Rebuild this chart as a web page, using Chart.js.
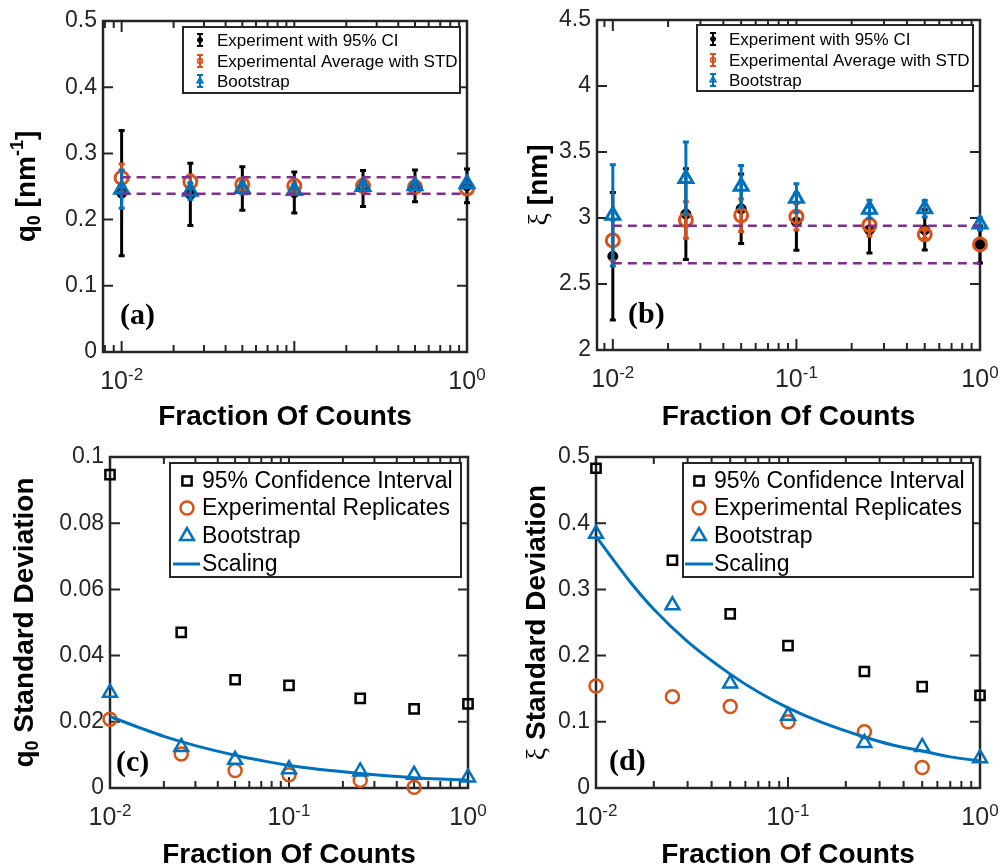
<!DOCTYPE html>
<html lang="en">
<head>
<meta charset="UTF-8">
<title>Fraction of counts: q0 and xi</title>
<script src="https://cdn.jsdelivr.net/npm/chart.js@4.4.1/dist/chart.umd.min.js"></script>
<style>
  body { margin: 0; background: #fff; }
  canvas { position: absolute; }
</style>
</head>
<body>
<canvas id="panelA" width="500" height="430" style="left:0;top:0"></canvas>
<canvas id="panelB" width="501" height="430" style="left:500px;top:0"></canvas>
<canvas id="panelC" width="500" height="436" style="left:0;top:430px"></canvas>
<canvas id="panelD" width="501" height="436" style="left:500px;top:430px"></canvas>

<script>
// ---- data ----
const fractions = [0.01, 0.025, 0.05, 0.1, 0.25, 0.5, 1];

// (a) q0 estimates
const q0Experiment = [0.240, 0.238, 0.247, 0.241, 0.247, 0.251, 0.251];
const q0Average    = [0.263, 0.257, 0.253, 0.251, 0.251, 0.249, 0.247];
const q0Bootstrap  = [0.246, 0.243, 0.247, 0.244, 0.250, 0.251, 0.254];
const q0Band       = [0.264, 0.239];

// (b) xi estimates
const xiExperiment = [2.71, 3.03, 3.07, 2.97, 2.91, 2.91, 2.80];
const xiAverage    = [2.83, 2.985, 3.02, 3.01, 2.947, 2.876, 2.80];
const xiBootstrap  = [3.02, 3.30, 3.24, 3.15, 3.066, 3.07, 2.955];
const xiBand       = [2.942, 2.657];

// (c) q0 standard deviations (also the error bar half widths in (a))
const q0StdCI        = [0.0947, 0.047, 0.0327, 0.031, 0.0271, 0.0239, 0.0254];
const q0StdReplicate = [0.0208, 0.0103, 0.0053, 0.004, 0.0023, 0.0002, null];
const q0StdBootstrap = [0.0288, 0.0124, 0.0085, 0.0057, 0.005, 0.004, 0.0032];

// (d) xi standard deviations (also the error bar half widths in (b))
const xiStdCI        = [0.483, 0.344, 0.263, 0.215, 0.176, 0.153, 0.14];
const xiStdReplicate = [0.154, 0.138, 0.123, 0.1, 0.085, 0.031, null];
const xiStdBootstrap = [0.384, 0.276, 0.158, 0.109, 0.068, 0.062, 0.045];

const scalingFractions = [0.01, 0.015, 0.02, 0.03, 0.05, 0.07, 0.1, 0.15, 0.25, 0.35, 0.5, 0.7, 1];
const q0Scaling = [0.0216, 0.0180, 0.0156, 0.0128, 0.0099, 0.0083, 0.0068, 0.0056, 0.0044, 0.0037, 0.0031, 0.0027, 0.0024];
const xiScaling = [0.380, 0.312, 0.270, 0.221, 0.172, 0.145, 0.121, 0.099, 0.077, 0.065, 0.056, 0.047, 0.041];

// ticks
const xMajorTicks = [0.01, 0.1, 1];
const xMinorTicks = [0.008, 0.009, 0.02, 0.03, 0.04, 0.05, 0.06, 0.07, 0.08, 0.09,
                     0.2, 0.3, 0.4, 0.5, 0.6, 0.7, 0.8, 0.9];
const q0Ticks    = [0, 0.1, 0.2, 0.3, 0.4, 0.5];
const xiTicks    = [2, 2.5, 3, 3.5, 4, 4.5];
const q0StdTicks = [0, 0.02, 0.04, 0.06, 0.08, 0.1];
const xiStdTicks = [0, 0.1, 0.2, 0.3, 0.4, 0.5];

// ---- styles ----
const BLUE = '#0072BD', ORANGE = '#D95319', PURPLE = '#7E2F8E', AXIS = '#262626';
const SANS = "'Liberation Sans', Arial, Helvetica, sans-serif";
const SERIF = "'Liberation Serif', 'Times New Roman', serif";
const B28 = 'bold 28px ' + SANS, B18 = 'bold 18px ' + SANS;

Chart.defaults.font.family = SANS;

const pts = (xs, ys) => xs.map((x, i) => ({x: x, y: ys[i]}));

function errorSeries(exp, expErr, avg, avgErr, boot, bootErr, band) {
  const bandLine = v => ({
    data: [{x: fractions[0], y: v}, {x: fractions[fractions.length - 1], y: v}],
    showLine: true, borderColor: PURPLE, borderWidth: 2.5, borderDash: [9, 6],
    pointRadius: 0, order: 0, clip: false
  });
  return [
    {label: 'Experiment with 95% CI', data: pts(fractions, exp), errors: expErr,
     pointStyle: 'circle', pointRadius: 5, pointBackgroundColor: '#000', pointBorderColor: '#000',
     pointBorderWidth: 1, borderColor: '#000', order: 3, clip: false, legendIcon: 'errDot'},
    {label: 'Experimental Average with STD', data: pts(fractions, avg), errors: avgErr,
     pointStyle: 'circle', pointRadius: 6.5, pointBackgroundColor: 'rgba(0,0,0,0)', pointBorderColor: ORANGE,
     pointBorderWidth: 3, borderColor: ORANGE, order: 2, clip: false, legendIcon: 'errCircle'},
    {label: 'Bootstrap', data: pts(fractions, boot), errors: bootErr,
     pointStyle: 'triangle', pointRadius: 8, pointBackgroundColor: 'rgba(0,0,0,0)', pointBorderColor: BLUE,
     pointBorderWidth: 3, borderColor: BLUE, order: 1, clip: false, legendIcon: 'errTriangle'},
    bandLine(band[0]),
    bandLine(band[1])
  ];
}

function stdSeries(ci, rep, boot, scaling) {
  return [
    {label: '95% Confidence Interval', data: pts(fractions, ci),
     pointStyle: 'rect', pointRadius: 6.5, pointBackgroundColor: 'rgba(0,0,0,0)', pointBorderColor: '#000',
     pointBorderWidth: 2.5, borderColor: '#000', order: 3, clip: false, legendIcon: 'rect'},
    {label: 'Experimental Replicates', data: pts(fractions, rep),
     pointStyle: 'circle', pointRadius: 6.5, pointBackgroundColor: 'rgba(0,0,0,0)', pointBorderColor: ORANGE,
     pointBorderWidth: 2.5, borderColor: ORANGE, order: 2, clip: false, legendIcon: 'circle'},
    {label: 'Bootstrap', data: pts(fractions, boot),
     pointStyle: 'triangle', pointRadius: 8, pointBackgroundColor: 'rgba(0,0,0,0)', pointBorderColor: BLUE,
     pointBorderWidth: 2.5, borderColor: BLUE, order: 1, clip: false, legendIcon: 'triangle'},
    {label: 'Scaling', data: pts(scalingFractions, scaling), showLine: true, borderColor: BLUE,
     borderWidth: 3, pointRadius: 0, cubicInterpolationMode: 'monotone', order: 0, clip: false, legendIcon: 'line'}
  ];
}

// ---- drawing helpers ----
function drawPieces(ctx, pieces, x, y) {
  let total = 0;
  pieces.forEach(pc => { ctx.font = pc.font; pc.w = ctx.measureText(pc.text).width; total += pc.w; });
  let cx = x - total / 2;
  ctx.textAlign = 'left';
  ctx.textBaseline = 'alphabetic';
  pieces.forEach(pc => { ctx.font = pc.font; ctx.fillText(pc.text, cx, y + (pc.dy || 0)); cx += pc.w; });
}

function drawMarker(ctx, kind, x, y, r, color, lw, fill) {
  ctx.save();
  ctx.strokeStyle = color;
  ctx.fillStyle = color;
  ctx.lineWidth = lw;
  ctx.beginPath();
  if (kind === 'circle') {
    ctx.arc(x, y, r, 0, Math.PI * 2);
  } else if (kind === 'rect') {
    const s = r * Math.SQRT1_2;
    ctx.rect(x - s, y - s, 2 * s, 2 * s);
  } else if (kind === 'triangle') {
    for (let k = 0; k < 3; k++) {
      const a = k * 2 * Math.PI / 3;
      ctx.lineTo(x + Math.sin(a) * r, y - Math.cos(a) * r);
    }
    ctx.closePath();
  }
  if (fill) ctx.fill();
  ctx.stroke();
  ctx.restore();
}

function errIcon(ctx, x, y, color, kind) {
  ctx.save();
  ctx.strokeStyle = color;
  ctx.lineWidth = 2;
  ctx.beginPath();
  ctx.moveTo(x, y - 6); ctx.lineTo(x, y + 6);
  ctx.moveTo(x - 3, y - 6); ctx.lineTo(x + 3, y - 6);
  ctx.moveTo(x - 3, y + 6); ctx.lineTo(x + 3, y + 6);
  ctx.stroke();
  ctx.restore();
  if (kind === 'errDot') drawMarker(ctx, 'circle', x, y, 2.5, color, 1, true);
  if (kind === 'errCircle') drawMarker(ctx, 'circle', x, y, 2.5, color, 1.5, false);
  if (kind === 'errTriangle') drawMarker(ctx, 'triangle', x, y, 3.5, color, 1.5, false);
}

function matlabLook(p) {
  return {
    id: 'matlabLook',
    beforeDatasetsDraw(chart) {
      const {ctx, chartArea: a, scales: {x, y}} = chart;
      ctx.save();
      ctx.strokeStyle = AXIS;
      ctx.lineWidth = 2.5;
      ctx.strokeRect(a.left, a.top, a.right - a.left, a.bottom - a.top);
      ctx.lineWidth = 2;
      ctx.beginPath();
      x.ticks.forEach(t => {
        const px = x.getPixelForValue(t.value);
        const len = t.major ? 11 : 7;
        ctx.moveTo(px, a.bottom); ctx.lineTo(px, a.bottom - len);
        ctx.moveTo(px, a.top); ctx.lineTo(px, a.top + len);
      });
      y.ticks.forEach(t => {
        const py = y.getPixelForValue(t.value);
        ctx.moveTo(a.left, py); ctx.lineTo(a.left + 10, py);
        ctx.moveTo(a.right, py); ctx.lineTo(a.right - 10, py);
      });
      ctx.stroke();
      ctx.restore();
    },
    beforeDatasetDraw(chart, args) {
      const ds = chart.data.datasets[args.index];
      if (!ds.errors) return;
      const {ctx, scales: {x, y}} = chart;
      ctx.save();
      ctx.strokeStyle = ds.borderColor;
      ctx.lineWidth = 3;
      ds.data.forEach((pt, i) => {
        const e = ds.errors[i];
        if (!e || pt.y == null) return;
        const px = x.getPixelForValue(pt.x);
        const top = y.getPixelForValue(pt.y + e), bot = y.getPixelForValue(pt.y - e);
        ctx.beginPath();
        ctx.moveTo(px, top); ctx.lineTo(px, bot);
        ctx.moveTo(px - 3, top); ctx.lineTo(px + 3, top);
        ctx.moveTo(px - 3, bot); ctx.lineTo(px + 3, bot);
        ctx.stroke();
      });
      ctx.restore();
    },
    afterDraw(chart) {
      const {ctx, chartArea: a, scales: {x}} = chart;
      ctx.save();
      ctx.fillStyle = AXIS;
      // x tick labels 10^n
      p.xLabels.forEach(v => {
        const px = x.getPixelForValue(v);
        const ex = Math.round(Math.log10(v));
        drawPieces(ctx, [
          {text: '10', font: '25px ' + SANS},
          {text: String(ex), font: '17px ' + SANS, dy: -9}
        ], px, a.bottom + 37);
      });
      // x title
      ctx.fillStyle = '#000';
      drawPieces(ctx, [{text: 'Fraction Of Counts', font: B28}], (a.left + a.right) / 2, a.bottom + p.xTitleDy);
      // y title
      ctx.save();
      ctx.translate(p.yTitleX, (a.top + a.bottom) / 2);
      ctx.rotate(-Math.PI / 2);
      drawPieces(ctx, p.yTitle, 0, 0);
      ctx.restore();
      // panel tag
      ctx.font = 'bold 30px ' + SERIF;
      ctx.textAlign = 'left';
      ctx.fillText(p.tag, a.left + p.tagDx, a.bottom + p.tagDy);
      // legend
      const L = p.legend;
      ctx.fillStyle = '#fff';
      ctx.fillRect(L.box[0], L.box[1], L.box[2] - L.box[0], L.box[3] - L.box[1]);
      ctx.strokeStyle = AXIS;
      ctx.lineWidth = 2;
      ctx.strokeRect(L.box[0], L.box[1], L.box[2] - L.box[0], L.box[3] - L.box[1]);
      const items = chart.data.datasets.filter(d => d.legendIcon);
      items.forEach((d, i) => {
        const by = L.rows[i], my = by - L.markerDy;
        const col = d.borderColor;
        if (d.legendIcon.startsWith('err')) {
          errIcon(ctx, L.markerX, my, col, d.legendIcon);
        } else if (d.legendIcon === 'line') {
          ctx.save();
          ctx.strokeStyle = col; ctx.lineWidth = 3;
          ctx.beginPath(); ctx.moveTo(L.lineX[0], my); ctx.lineTo(L.lineX[1], my); ctx.stroke();
          ctx.restore();
        } else {
          drawMarker(ctx, d.legendIcon, L.markerX, my, d.pointRadius, col, 2.5, false);
        }
        ctx.fillStyle = '#000';
        ctx.font = L.size + 'px ' + SANS;
        ctx.textAlign = 'left';
        ctx.fillText(d.label, L.textX, by);
      });
      ctx.restore();
    }
  };
}

function makePanel(p) {
  const canvas = document.getElementById(p.id);
  return new Chart(canvas, {
    type: 'scatter',
    data: {datasets: p.datasets},
    options: {
      responsive: false,
      animation: false,
      events: [],
      layout: {padding: {top: p.area.top, right: canvas.width - p.area.right, left: 0, bottom: 0}},
      scales: {
        x: {
          type: 'logarithmic', min: p.xMin, max: 1,
          grid: {display: false, drawTicks: false}, border: {display: false},
          ticks: {display: false},
          afterBuildTicks: s => {
            s.ticks = xMajorTicks.concat(xMinorTicks)
              .filter(v => v >= s.min && v <= s.max)
              .map(v => ({value: v, major: xMajorTicks.includes(v)}));
          },
          afterFit: s => { s.height = canvas.height - p.area.bottom; }
        },
        y: {
          type: 'linear', min: p.yTicks[0], max: p.yTicks[p.yTicks.length - 1],
          grid: {display: false, drawTicks: false}, border: {display: false},
          ticks: {padding: 6, color: AXIS, font: {size: 23}, autoSkip: false, callback: v => String(v)},
          afterBuildTicks: s => { s.ticks = p.yTicks.map(v => ({value: v})); },
          afterFit: s => { s.width = p.area.left; }
        }
      },
      plugins: {legend: {display: false}, tooltip: {enabled: false}}
    },
    plugins: [matlabLook(p)]
  });
}

makePanel({
  id: 'panelA', area: {left: 103, top: 21, right: 467, bottom: 352},
  xMin: 0.0078, xLabels: [0.01, 1], yTicks: q0Ticks,
  yTitle: [{text: 'q', font: B28}, {text: '0', font: B18, dy: 5}, {text: ' [nm', font: B28},
           {text: '-1', font: B18, dy: -12}, {text: ']', font: B28}],
  yTitleX: 35, xTitleDy: 73, tag: '(a)', tagDx: 17, tagDy: -28,
  legend: {box: [183, 27, 460, 93], rows: [46, 67, 87], markerX: 200, textX: 217, size: 17, markerDy: 6},
  datasets: errorSeries(q0Experiment, q0StdCI, q0Average, q0StdReplicate, q0Bootstrap, q0StdBootstrap, q0Band)
});

makePanel({
  id: 'panelB', area: {left: 97, top: 20, right: 480, bottom: 350},
  xMin: 0.0082, xLabels: xMajorTicks, yTicks: xiTicks,
  yTitle: [{text: 'ξ', font: '28px ' + SERIF}, {text: ' [nm]', font: B28}],
  yTitleX: 47, xTitleDy: 75, tag: '(b)', tagDx: 31, tagDy: -27,
  legend: {box: [197, 25, 473, 91], rows: [45, 66, 86], markerX: 213, textX: 229, size: 17, markerDy: 6},
  datasets: errorSeries(xiExperiment, xiStdCI, xiAverage, xiStdReplicate, xiBootstrap, xiStdBootstrap, xiBand)
});

makePanel({
  id: 'panelC', area: {left: 110, top: 27, right: 468, bottom: 358},
  xMin: 0.01, xLabels: xMajorTicks, yTicks: q0StdTicks,
  yTitle: [{text: 'q', font: B28}, {text: '0', font: B18, dy: 5}, {text: ' Standard Deviation', font: B28}],
  yTitleX: 33, xTitleDy: 75, tag: '(c)', tagDx: 6, tagDy: -17,
  legend: {box: [170, 33, 461, 147], rows: [58, 85, 113, 141], markerX: 187, textX: 202, size: 23,
           markerDy: 7, lineX: [173, 200]},
  datasets: stdSeries(q0StdCI, q0StdReplicate, q0StdBootstrap, q0Scaling)
});

makePanel({
  id: 'panelD', area: {left: 96, top: 27, right: 480, bottom: 358},
  xMin: 0.01, xLabels: xMajorTicks, yTicks: xiStdTicks,
  yTitle: [{text: 'ξ', font: '28px ' + SERIF}, {text: ' Standard Deviation', font: B28}],
  yTitleX: 45, xTitleDy: 75, tag: '(d)', tagDx: 13, tagDy: -18,
  legend: {box: [183, 33, 473, 147], rows: [58, 85, 113, 141], markerX: 199, textX: 214, size: 23,
           markerDy: 7, lineX: [185, 213]},
  datasets: stdSeries(xiStdCI, xiStdReplicate, xiStdBootstrap, xiScaling)
});
</script>
</body>
</html>
